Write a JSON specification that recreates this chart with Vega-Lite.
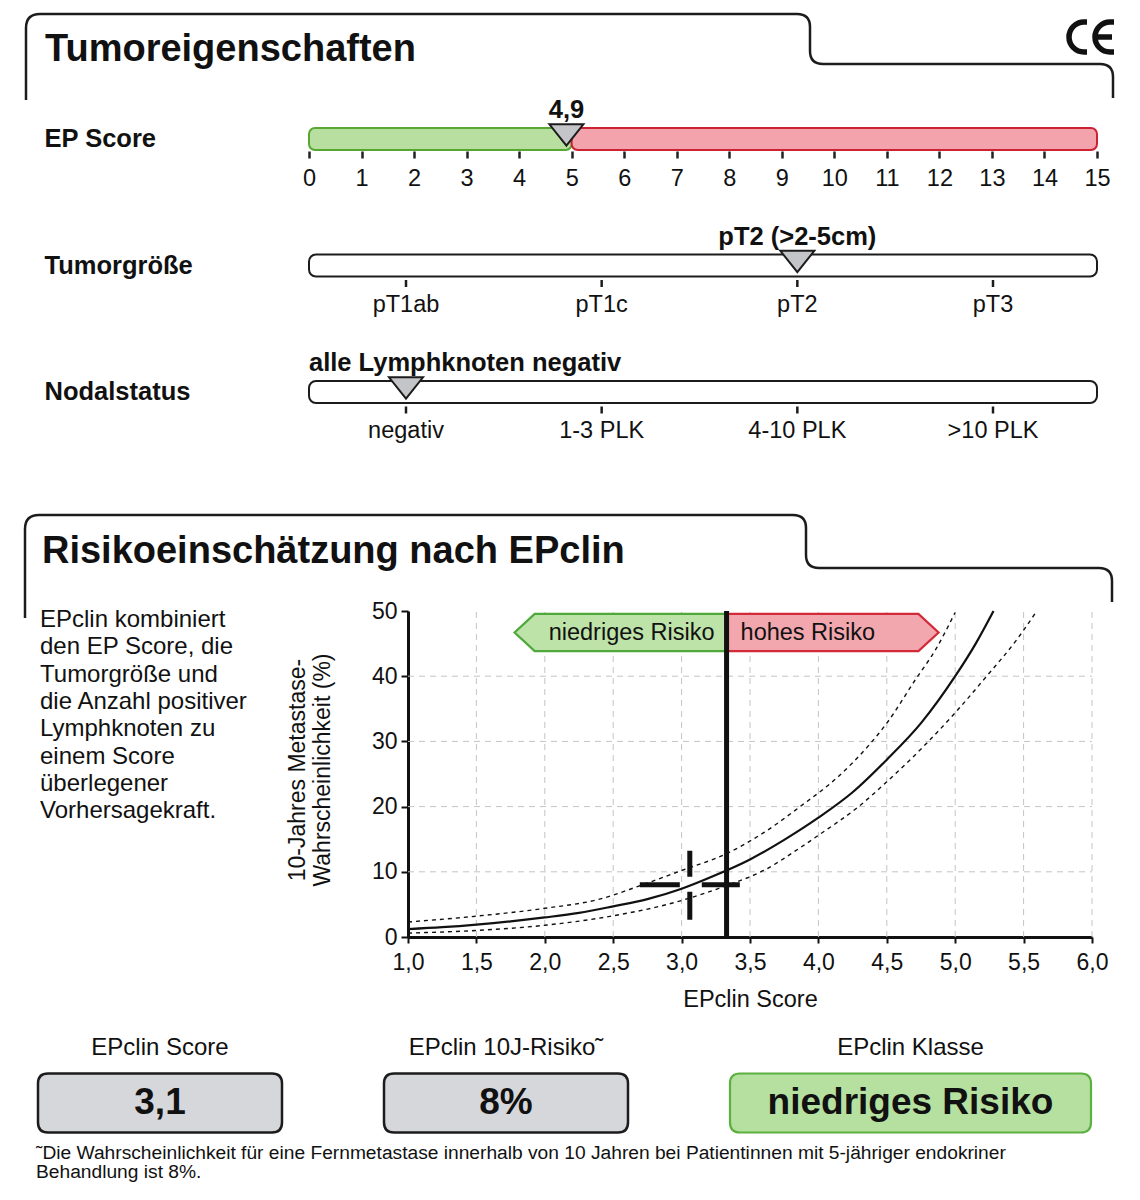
{
"$schema":"https://vega.github.io/schema/vega-lite/v6.json",
"width":1140,"height":1200,"autosize":{"type":"none"},"padding":0,"background":"#ffffff",
"config":{"font":"Liberation Sans","view":{"stroke":null},"text":{"color":"#111111"},"axis":{"labelFont":"Liberation Sans","titleFont":"Liberation Sans","labelColor":"#111111","titleColor":"#111111"}},
"datasets":{
 "seite":[
  {"id":"titel1","text":"Tumoreigenschaften"},
  {"id":"titel2","text":"Risikoeinschätzung nach EPclin"},
  {"id":"info","text":["EPclin kombiniert","den EP Score, die","Tumorgröße und","die Anzahl positiver","Lymphknoten zu","einem Score","überlegener","Vorhersagekraft."]},
  {"id":"ytitel","text":["10-Jahres Metastase-","Wahrscheinlichkeit (%)"]},
  {"id":"fussnote","text":["˜Die Wahrscheinlichkeit für eine Fernmetastase innerhalb von 10 Jahren bei Patientinnen mit 5-jähriger endokriner","Behandlung ist 8%."]}
 ],
 "ep_klassen":[{"klasse":"niedrig","row":"EP Score","von":0,"bis":5},{"klasse":"hoch","row":"EP Score","von":5,"bis":15}],
 "skalen":[{"row":"Tumorgröße"},{"row":"Nodalstatus"}],
 "befund":[{"row":"EP Score","wert":4.9,"text":"4,9"},{"row":"Tumorgröße","stufe":2,"text":"pT2 (>2-5cm)"},{"row":"Nodalstatus","stufe":0,"text":"alle Lymphknoten negativ"}],
 "stufen":[{"row":"Tumorgröße","stufe":0,"label":"pT1ab"},{"row":"Tumorgröße","stufe":1,"label":"pT1c"},{"row":"Tumorgröße","stufe":2,"label":"pT2"},{"row":"Tumorgröße","stufe":3,"label":"pT3"},{"row":"Nodalstatus","stufe":0,"label":"negativ"},{"row":"Nodalstatus","stufe":1,"label":"1-3 PLK"},{"row":"Nodalstatus","stufe":2,"label":"4-10 PLK"},{"row":"Nodalstatus","stufe":3,"label":">10 PLK"}],
 "gitter_x":[{"wert":1.5},{"wert":2},{"wert":2.5},{"wert":3},{"wert":3.5},{"wert":4},{"wert":4.5},{"wert":5},{"wert":5.5},{"wert":6}],
 "gitter_y":[{"wert":10},{"wert":20},{"wert":30},{"wert":40}],
 "grenze":[{"epclin":3.3287}],
 "risikoklassen":[{"klasse":"niedriges Risiko","grenze":3.3287},{"klasse":"hohes Risiko","grenze":3.3287}],
 "kurven":[
  {"kurve":"Median","epclin":1.0,"risiko":1.2},{"kurve":"Median","epclin":1.25,"risiko":1.5},{"kurve":"Median","epclin":1.5,"risiko":1.9},{"kurve":"Median","epclin":1.75,"risiko":2.4},{"kurve":"Median","epclin":2.0,"risiko":3.0},{"kurve":"Median","epclin":2.25,"risiko":3.7},{"kurve":"Median","epclin":2.5,"risiko":4.7},{"kurve":"Median","epclin":2.75,"risiko":5.8},{"kurve":"Median","epclin":3.0,"risiko":7.4},{"kurve":"Median","epclin":3.25,"risiko":9.5},{"kurve":"Median","epclin":3.5,"risiko":11.9},{"kurve":"Median","epclin":3.75,"risiko":14.9},{"kurve":"Median","epclin":4.0,"risiko":18.3},{"kurve":"Median","epclin":4.25,"risiko":22.2},{"kurve":"Median","epclin":4.5,"risiko":27.2},{"kurve":"Median","epclin":4.75,"risiko":32.8},{"kurve":"Median","epclin":5.0,"risiko":40.0},{"kurve":"Median","epclin":5.15,"risiko":45.0},{"kurve":"Median","epclin":5.28,"risiko":50.0},
  {"kurve":"obere Grenze","epclin":1.0,"risiko":2.3},{"kurve":"obere Grenze","epclin":1.5,"risiko":3.2},{"kurve":"obere Grenze","epclin":2.0,"risiko":4.4},{"kurve":"obere Grenze","epclin":2.4,"risiko":5.8},{"kurve":"obere Grenze","epclin":2.7,"risiko":7.9},{"kurve":"obere Grenze","epclin":3.0,"risiko":10.2},{"kurve":"obere Grenze","epclin":3.33,"risiko":12.8},{"kurve":"obere Grenze","epclin":3.6,"risiko":16.0},{"kurve":"obere Grenze","epclin":3.86,"risiko":19.9},{"kurve":"obere Grenze","epclin":4.15,"risiko":24.7},{"kurve":"obere Grenze","epclin":4.36,"risiko":29.2},{"kurve":"obere Grenze","epclin":4.5,"risiko":32.8},{"kurve":"obere Grenze","epclin":4.71,"risiko":39.5},{"kurve":"obere Grenze","epclin":4.86,"risiko":44.2},{"kurve":"obere Grenze","epclin":5.0,"risiko":49.8},
  {"kurve":"untere Grenze","epclin":1.0,"risiko":0.6},{"kurve":"untere Grenze","epclin":1.5,"risiko":1.0},{"kurve":"untere Grenze","epclin":2.0,"risiko":1.8},{"kurve":"untere Grenze","epclin":2.4,"risiko":2.9},{"kurve":"untere Grenze","epclin":3.0,"risiko":5.6},{"kurve":"untere Grenze","epclin":3.33,"risiko":7.9},{"kurve":"untere Grenze","epclin":3.6,"risiko":10.2},{"kurve":"untere Grenze","epclin":3.86,"risiko":13.6},{"kurve":"untere Grenze","epclin":4.0,"risiko":15.6},{"kurve":"untere Grenze","epclin":4.3,"risiko":20.1},{"kurve":"untere Grenze","epclin":4.5,"risiko":23.8},{"kurve":"untere Grenze","epclin":4.8,"risiko":29.9},{"kurve":"untere Grenze","epclin":5.0,"risiko":34.4},{"kurve":"untere Grenze","epclin":5.23,"risiko":40.0},{"kurve":"untere Grenze","epclin":5.45,"risiko":45.6},{"kurve":"untere Grenze","epclin":5.59,"risiko":49.8}
 ],
 "patientin":[{"epclin":3.06,"risiko":8}],
 "ergebnis":[{"slot":0,"titel":"EPclin Score","wert":"3,1"},{"slot":1,"titel":"EPclin 10J-Risiko˜","wert":"8%"},{"slot":2,"titel":"EPclin Klasse","wert":"niedriges Risiko"}]
},
"layer":[
 {"layer":[
  {"data":{"values":[{"rahmen":"Abschnitte"}]},
   "mark":{"type":"point","shape":"M-1.088,-1L-1.088,-1.144Q-1.088,-1.172 -1.06,-1.172L0.454,-1.172Q0.48,-1.172 0.48,-1.146L0.48,-1.098Q0.48,-1.072 0.506,-1.072L1.06,-1.072Q1.086,-1.072 1.086,-1.046L1.086,-1.004M-1.09,0.036L-1.09,-0.142Q-1.09,-0.17 -1.062,-0.17L0.446,-0.17Q0.472,-0.17 0.472,-0.144L0.472,-0.09Q0.472,-0.064 0.498,-0.064L1.058,-0.064Q1.084,-0.064 1.084,-0.038L1.084,0.004","size":1000000,"filled":false,"stroke":"#1c1c1c","strokeWidth":2.5,"opacity":1},
   "encoding":{"x":{"datum":0.5,"type":"quantitative","scale":{"type":"linear","domain":[0,1],"range":[0,1140],"nice":false,"zero":false},"axis":null},"y":{"datum":0.5,"type":"quantitative","scale":{"type":"linear","domain":[0,1],"range":[0,1200],"nice":false,"zero":false},"axis":null}}},
  {"data":{"values":[{"zeichen":"CE"}]},
   "mark":{"type":"point","shape":"M1.034,-1.156L1.028,-1.156C1.0114,-1.156 0.998,-1.1426 0.998,-1.126C0.998,-1.1094 1.0114,-1.096 1.028,-1.096L1.034,-1.096M1.088,-1.156L1.08,-1.156C1.0634,-1.156 1.05,-1.1426 1.05,-1.126C1.05,-1.1094 1.0634,-1.096 1.08,-1.096L1.088,-1.096M1.052,-1.126L1.084,-1.126","size":1000000,"filled":false,"stroke":"#111111","strokeWidth":5.5,"opacity":1},
   "encoding":{"x":{"datum":0.5,"type":"quantitative","axis":null},"y":{"datum":0.5,"type":"quantitative","axis":null}}},
  {"data":{"name":"seite"},"transform":[{"filter":"datum.id === 'titel1'"}],
   "mark":{"type":"text","align":"left","baseline":"alphabetic","fontSize":38,"fontWeight":"bold"},
   "encoding":{"x":{"datum":0.0395,"type":"quantitative","axis":null},"y":{"datum":0.0508,"type":"quantitative","axis":null},"text":{"field":"text"}}},
  {"data":{"name":"seite"},"transform":[{"filter":"datum.id === 'titel2'"}],
   "mark":{"type":"text","align":"left","baseline":"alphabetic","fontSize":38,"fontWeight":"bold"},
   "encoding":{"x":{"datum":0.0368,"type":"quantitative","axis":null},"y":{"datum":0.4692,"type":"quantitative","axis":null},"text":{"field":"text"}}},
  {"data":{"name":"seite"},"transform":[{"filter":"datum.id === 'info'"}],
   "mark":{"type":"text","align":"left","baseline":"alphabetic","fontSize":24,"lineHeight":27.3},
   "encoding":{"x":{"datum":0.0351,"type":"quantitative","axis":null},"y":{"datum":0.5225,"type":"quantitative","axis":null},"text":{"field":"text"}}},
  {"data":{"name":"seite"},"transform":[{"filter":"datum.id === 'ytitel'"}],
   "mark":{"type":"text","align":"center","baseline":"middle","angle":270,"fontSize":23,"lineHeight":25},
   "encoding":{"x":{"datum":0.2612,"type":"quantitative","axis":null},"y":{"datum":0.6417,"type":"quantitative","axis":null},"text":{"field":"text"}}},
  {"data":{"name":"seite"},"transform":[{"filter":"datum.id === 'fussnote'"}],
   "mark":{"type":"text","align":"left","baseline":"alphabetic","fontSize":19.2,"lineHeight":19.5},
   "encoding":{"x":{"datum":0.0316,"type":"quantitative","axis":null},"y":{"datum":0.9658,"type":"quantitative","axis":null},"text":{"field":"text"}}}
 ]},
 {"layer":[
  {"data":{"name":"ep_klassen"},"transform":[{"filter":"datum.klasse === 'niedrig'"}],
   "mark":{"type":"rect","fill":"#b8df9f","stroke":"#56a832","strokeWidth":2,"cornerRadius":6},
   "encoding":{
    "x":{"field":"von","type":"quantitative","title":null,"scale":{"type":"linear","domain":[0,15],"range":[309,1097],"nice":false,"zero":false},
     "axis":{"orient":"bottom","offset":-1049,"values":[0,1,2,3,4,5,6,7,8,9,10,11,12,13,14,15],"format":"d","domain":false,"ticks":true,"tickSize":7,"tickWidth":2.5,"tickColor":"#222222","labelFontSize":23.5,"labelPadding":8,"labelFlush":false,"labelOverlap":false,"grid":false,"title":null}},
    "x2":{"field":"bis"},
    "y":{"field":"row","type":"nominal","title":null,"scale":{"type":"band","domain":["EP Score","Tumorgröße","Nodalstatus"],"range":[128,403],"paddingInner":0.826,"paddingOuter":0},
     "axis":{"orient":"left","offset":-309,"domain":false,"ticks":false,"tickSize":0,"labelPadding":265,"labelAlign":"left","labelBaseline":"middle","labelFontSize":25.5,"labelFontWeight":"bold","labelLimit":400,"grid":false,"title":null}}}},
  {"data":{"name":"ep_klassen"},"transform":[{"filter":"datum.klasse === 'hoch'"}],
   "mark":{"type":"rect","fill":"#f2a3ab","stroke":"#cc2233","strokeWidth":2,"cornerRadius":6},
   "encoding":{"x":{"field":"von","type":"quantitative","title":null},"x2":{"field":"bis"},"y":{"field":"row","type":"nominal","title":null}}},
  {"data":{"name":"skalen"},
   "mark":{"type":"rect","fill":"#ffffff","stroke":"#1c1c1c","strokeWidth":2,"cornerRadius":7},
   "encoding":{"x":{"datum":0,"type":"quantitative"},"x2":{"datum":15},"y":{"field":"row","type":"nominal","title":null}}},
  {"data":{"name":"befund"},"transform":[{"filter":"datum.row === 'EP Score'"}],
   "mark":{"type":"point","shape":"M-1,-0.865L1,-0.865L0,0.394Z","size":1156,"filled":true,"fill":"#c4c5c9","stroke":"#1c1c1c","strokeWidth":2,"opacity":1},
   "encoding":{"x":{"field":"wert","type":"quantitative","title":null},"y":{"field":"row","type":"nominal","title":null}}},
  {"data":{"name":"befund"},"transform":[{"filter":"datum.row === 'EP Score'"}],
   "mark":{"type":"text","align":"center","baseline":"middle","fontSize":25.5,"fontWeight":"bold","dy":-29},
   "encoding":{"x":{"field":"wert","type":"quantitative","title":null},"y":{"field":"row","type":"nominal","title":null},"text":{"field":"text"}}},
  {"data":{"name":"befund"},"transform":[{"filter":"datum.row === 'Nodalstatus'"}],
   "mark":{"type":"text","align":"left","baseline":"middle","fontSize":25.5,"fontWeight":"bold","dy":-29},
   "encoding":{"x":{"datum":0,"type":"quantitative"},"y":{"field":"row","type":"nominal","title":null},"text":{"field":"text"}}}
 ]},
 {"layer":[
  {"data":{"name":"stufen"},
   "mark":{"type":"tick","color":"#1c1c1c","size":7,"thickness":2.5,"yOffset":18,"opacity":1},
   "encoding":{"x":{"field":"stufe","type":"quantitative","scale":{"type":"linear","domain":[0,3],"range":[406,993],"nice":false,"zero":false},"axis":null},
    "y":{"field":"row","type":"nominal","scale":{"type":"band","domain":["EP Score","Tumorgröße","Nodalstatus"],"range":[128,403],"paddingInner":0.826,"paddingOuter":0},"axis":null}}},
  {"data":{"name":"stufen"},
   "mark":{"type":"text","align":"center","baseline":"middle","fontSize":23.5,"dy":39.5},
   "encoding":{"x":{"field":"stufe","type":"quantitative","axis":null},"y":{"field":"row","type":"nominal","axis":null},"text":{"field":"label"}}},
  {"data":{"name":"befund"},"transform":[{"filter":"datum.row !== 'EP Score'"}],
   "mark":{"type":"point","shape":"M-1,-0.865L1,-0.865L0,0.394Z","size":1156,"filled":true,"fill":"#c4c5c9","stroke":"#1c1c1c","strokeWidth":2,"opacity":1},
   "encoding":{"x":{"field":"stufe","type":"quantitative","axis":null},"y":{"field":"row","type":"nominal","axis":null}}},
  {"data":{"name":"befund"},"transform":[{"filter":"datum.row === 'Tumorgröße'"}],
   "mark":{"type":"text","align":"center","baseline":"middle","fontSize":25.5,"fontWeight":"bold","dy":-29},
   "encoding":{"x":{"field":"stufe","type":"quantitative","axis":null},"y":{"field":"row","type":"nominal","axis":null},"text":{"field":"text"}}}
 ]},
 {"layer":[
  {"data":{"name":"gitter_x"},
   "mark":{"type":"rule","color":"#c4c4c4","strokeWidth":1,"strokeDash":[6,5]},
   "encoding":{
    "x":{"field":"wert","type":"quantitative","scale":{"type":"linear","domain":[1,6],"range":[408,1092],"nice":false,"zero":false},
     "axis":{"orient":"bottom","offset":-263,"values":[1,1.5,2,2.5,3,3.5,4,4.5,5,5.5,6],"labelExpr":"replace(format(datum.value, '.1f'), '.', ',')","domain":true,"domainColor":"#111111","domainWidth":3,"ticks":true,"tickSize":6,"tickWidth":2,"tickColor":"#111111","labelFontSize":23,"labelPadding":8,"labelFlush":false,"labelOverlap":false,"grid":false,"title":"EPclin Score","titleFontSize":23.5,"titleFontWeight":"normal","titlePadding":13}},
    "y":{"datum":0,"type":"quantitative","scale":{"type":"linear","domain":[0,50],"range":[937,611],"nice":false,"zero":false},
     "axis":{"orient":"left","offset":-408,"values":[0,10,20,30,40,50],"domain":true,"domainColor":"#111111","domainWidth":3,"ticks":true,"tickSize":7,"tickWidth":2,"tickColor":"#111111","labelFontSize":23,"labelPadding":4,"grid":false,"title":null}},
    "y2":{"datum":50}}},
  {"data":{"name":"gitter_y"},
   "mark":{"type":"rule","color":"#c4c4c4","strokeWidth":1,"strokeDash":[6,5]},
   "encoding":{"y":{"field":"wert","type":"quantitative"},"x":{"datum":1,"type":"quantitative"},"x2":{"datum":6}}},
  {"data":{"name":"risikoklassen"},"transform":[{"filter":"datum.klasse === 'niedriges Risiko'"}],
   "mark":{"type":"point","shape":"M0,-0.175L-1.81,-0.175L-2,0L-1.81,0.175L0,0.175Z","size":44944,"filled":true,"fill":"#bde3a8","stroke":"#4ea83a","strokeWidth":2.2,"opacity":1},
   "encoding":{"x":{"field":"grenze","type":"quantitative"},"y":{"datum":46.7,"type":"quantitative"}}},
  {"data":{"name":"risikoklassen"},"transform":[{"filter":"datum.klasse === 'hohes Risiko'"}],
   "mark":{"type":"point","shape":"M0,-0.175L1.81,-0.175L2,0L1.81,0.175L0,0.175Z","size":44944,"filled":true,"fill":"#f2a6ad","stroke":"#d22a38","strokeWidth":2.2,"opacity":1},
   "encoding":{"x":{"field":"grenze","type":"quantitative"},"y":{"datum":46.7,"type":"quantitative"}}},
  {"data":{"name":"risikoklassen"},"transform":[{"filter":"datum.klasse === 'niedriges Risiko'"}],
   "mark":{"type":"text","align":"right","baseline":"middle","fontSize":23.5,"dx":-12},
   "encoding":{"x":{"field":"grenze","type":"quantitative"},"y":{"datum":46.7,"type":"quantitative"},"text":{"field":"klasse"}}},
  {"data":{"name":"risikoklassen"},"transform":[{"filter":"datum.klasse === 'hohes Risiko'"}],
   "mark":{"type":"text","align":"left","baseline":"middle","fontSize":23.5,"dx":14},
   "encoding":{"x":{"field":"grenze","type":"quantitative"},"y":{"datum":46.7,"type":"quantitative"},"text":{"field":"klasse"}}},
  {"data":{"name":"kurven"},"transform":[{"filter":"datum.kurve !== 'Median'"}],
   "mark":{"type":"line","color":"#111111","strokeWidth":1.4,"strokeDash":[4,4],"interpolate":"monotone"},
   "encoding":{"x":{"field":"epclin","type":"quantitative"},"y":{"field":"risiko","type":"quantitative"},"detail":{"field":"kurve"}}},
  {"data":{"name":"kurven"},"transform":[{"filter":"datum.kurve === 'Median'"}],
   "mark":{"type":"line","color":"#111111","strokeWidth":2.2,"interpolate":"monotone"},
   "encoding":{"x":{"field":"epclin","type":"quantitative"},"y":{"field":"risiko","type":"quantitative"}}},
  {"data":{"name":"grenze"},
   "mark":{"type":"rule","color":"#111111","strokeWidth":5},
   "encoding":{"x":{"field":"epclin","type":"quantitative"},"y":{"datum":0,"type":"quantitative"},"y2":{"datum":50}}},
  {"data":{"name":"patientin"},
   "mark":{"type":"point","shape":"M-1,0L-0.2,0M0.24,0L1,0M0,-0.68L0,-0.16M0,0.14L0,0.7","size":10000,"filled":false,"stroke":"#111111","strokeWidth":5,"opacity":1},
   "encoding":{"x":{"field":"epclin","type":"quantitative"},"y":{"field":"risiko","type":"quantitative"}}}
 ]},
 {"layer":[
  {"data":{"name":"ergebnis"},"transform":[{"filter":"datum.slot < 2"}],
   "mark":{"type":"point","shape":"M-0.918,-0.2418L0.918,-0.2418Q1,-0.2418 1,-0.1598L1,0.1598Q1,0.2418 0.918,0.2418L-0.918,0.2418Q-1,0.2418 -1,0.1598L-1,-0.1598Q-1,-0.2418 -0.918,-0.2418Z","size":59536,"filled":true,"fill":"#d5d7db","stroke":"#1c1c1c","strokeWidth":2.5,"opacity":1},
   "encoding":{"x":{"field":"slot","type":"quantitative","scale":{"type":"linear","domain":[0,1,2],"range":[160,506,910.5],"nice":false,"zero":false},"axis":null},
    "y":{"datum":1,"type":"quantitative","scale":{"type":"linear","domain":[0,1],"range":[1048,1103],"nice":false,"zero":false},"axis":null}}},
  {"data":{"name":"ergebnis"},"transform":[{"filter":"datum.slot === 2"}],
   "mark":{"type":"point","shape":"M-0.9446,-0.1634L0.9446,-0.1634Q1,-0.1634 1,-0.108L1,0.108Q1,0.1634 0.9446,0.1634L-0.9446,0.1634Q-1,0.1634 -1,0.108L-1,-0.108Q-1,-0.1634 -0.9446,-0.1634Z","size":130321,"filled":true,"fill":"#b5e0a0","stroke":"#5cb040","strokeWidth":2.2,"opacity":1},
   "encoding":{"x":{"field":"slot","type":"quantitative","axis":null},"y":{"datum":1,"type":"quantitative","axis":null}}},
  {"data":{"name":"ergebnis"},
   "mark":{"type":"text","align":"center","baseline":"middle","fontSize":24},
   "encoding":{"x":{"field":"slot","type":"quantitative","axis":null},"y":{"datum":0,"type":"quantitative","axis":null},"text":{"field":"titel"}}},
  {"data":{"name":"ergebnis"},
   "mark":{"type":"text","align":"center","baseline":"middle","fontSize":37,"fontWeight":"bold"},
   "encoding":{"x":{"field":"slot","type":"quantitative","axis":null},"y":{"datum":1,"type":"quantitative","axis":null},"text":{"field":"wert"}}}
 ]}
],
"resolve":{"scale":{"x":"independent","y":"independent"},"axis":{"x":"independent","y":"independent"}}
}
